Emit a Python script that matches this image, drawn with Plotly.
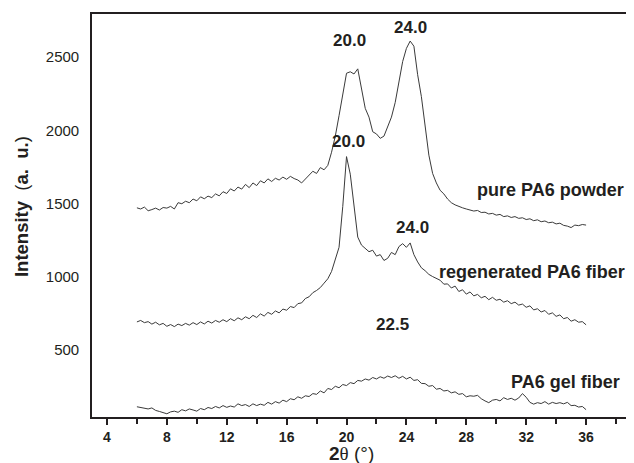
import numpy as np
import plotly.graph_objects as go

two_theta = [round(v, 2) for v in np.arange(6.0, 36.001, 0.25)]

pure_powder = [
    1470, 1462, 1475, 1450, 1458, 1468, 1455, 1472, 1468, 1480, 1462, 1505, 1498, 1515, 1505, 1530,
    1518, 1545, 1532, 1550, 1540, 1565, 1552, 1580, 1568, 1600, 1585, 1612, 1598, 1630, 1608, 1640,
    1622, 1655, 1640, 1668, 1650, 1672, 1660, 1680, 1665, 1685, 1670, 1660, 1640, 1668, 1690, 1720,
    1705, 1745, 1730, 1760, 1850, 1960, 2100, 2240, 2390, 2400, 2385, 2420, 2270, 2150, 2090, 1990,
    1975, 1945, 1960, 2030, 2090, 2190, 2320, 2470, 2560, 2610, 2575, 2380, 2230, 2020, 1830, 1705,
    1640, 1590, 1565, 1530, 1505, 1490, 1478, 1470, 1462, 1455, 1448, 1452, 1438, 1440, 1428, 1432,
    1420, 1425, 1410, 1415, 1404, 1410, 1398, 1402, 1390, 1395, 1382, 1388, 1375, 1380, 1368, 1372,
    1360, 1365, 1350, 1345, 1335, 1352, 1348, 1356, 1352,
]

regenerated_fiber = [
    690, 700, 685, 692, 675, 688, 670, 680, 660, 672, 658, 675, 665, 680, 668, 685,
    672, 690, 676, 695, 682, 700, 688, 705, 692, 712, 698, 718, 705, 725, 712, 735,
    720, 745, 730, 755, 742, 765, 752, 778, 770, 795, 788, 815, 820, 850, 862, 890,
    905, 925, 955, 985, 1035, 1110, 1200, 1480, 1820, 1700, 1480, 1270, 1215, 1195, 1170, 1180,
    1140, 1150, 1110, 1125, 1165, 1150, 1205, 1225, 1200, 1230, 1150, 1100, 1060, 1040, 1015, 1000,
    985, 975, 948, 950, 922, 935, 898, 910, 880, 895, 868, 878, 855, 865, 842, 858,
    838, 845, 825, 835, 815, 825, 805, 812, 790, 800, 772, 780, 758, 768, 742, 752,
    728, 738, 712, 720, 695, 705, 688, 692, 670,
]

gel_fiber = [
    110, 105, 100, 95, 102, 85, 78, 70, 62, 75, 80, 72, 90, 82, 95, 88,
    80, 98, 90, 105, 98, 112, 102, 118, 106, 115, 108, 130, 118, 125, 112, 130,
    118, 128, 120, 140, 128, 145, 135, 155, 145, 165, 158, 178, 168, 185, 180, 200,
    195, 218, 205, 235, 228, 250, 240, 262, 255, 275, 268, 290, 285, 300, 292, 310,
    300, 315, 305, 320, 310, 322, 305, 318, 300, 312, 290, 295, 270, 268, 250, 255,
    230, 235, 218, 222, 205, 212, 195, 200, 178, 185, 182, 188, 165, 150, 138, 155,
    160, 150, 172, 160, 168, 155, 170, 200, 175, 140, 128, 138, 132, 145, 128, 140,
    132, 138, 130, 140, 118, 120, 108, 112, 90,
]

series_names = ["pure PA6 powder", "regenerated PA6 fiber", "PA6 gel fiber"]
series_label_pos = [(33.6, 1593), (32.4, 1033), (34.6, 281)]

peak_labels = ["20.0", "24.0", "20.0", "24.0", "22.5"]
peak_label_pos = [(20.2, 2617), (24.27, 2700), (20.13, 1921), (24.4, 1333), (23.07, 671)]

x_tick_vals = [4, 8, 12, 16, 20, 24, 28, 32, 36]
x_minor_vals = [6, 10, 14, 18, 22, 26, 30, 34, 38]
y_tick_vals = [500, 1000, 1500, 2000, 2500]

TXT = "#231f20"
LINE = "#3a3a3a"

fig = go.Figure()
for name, ys in zip(series_names, [pure_powder, regenerated_fiber, gel_fiber]):
    fig.add_trace(go.Scatter(x=two_theta, y=ys, mode="lines", name=name,
                             line=dict(color=LINE, width=1), showlegend=False))

annotations = []
for t, (ax, ay) in zip(peak_labels, peak_label_pos):
    annotations.append(dict(x=ax, y=ay, xref="x", yref="y", text="<b>%s</b>" % t,
                            showarrow=False, font=dict(size=17, color=TXT)))
for t, (ax, ay) in zip(series_names, series_label_pos):
    annotations.append(dict(x=ax, y=ay, xref="x", yref="y", text="<b>%s</b>" % t,
                            showarrow=False, font=dict(size=18, color=TXT)))

annotations.append(dict(x=0, y=0.521, xref="paper", yref="paper", xshift=-71,
                        xanchor="center", yanchor="middle",
                        text="<b>Intensity</b>\u00a0\u00a0(<b>a.\u00a0\u00a0u.</b>)",
                        textangle=-90, showarrow=False,
                        font=dict(size=18.5, color=TXT)))
annotations.append(dict(x=0.4806, y=0, xref="paper", yref="paper", yshift=-36,
                        xanchor="center", yanchor="middle",
                        text="<b>2</b><span style='font-family:Liberation Serif'>θ</span>\u00a0(°)",
                        showarrow=False, font=dict(size=19, color=TXT)))

fig.update_layout(
    width=626, height=463,
    margin=dict(l=84, r=1, t=6, b=54),
    paper_bgcolor="white", plot_bgcolor="white",
    font=dict(family="Liberation Sans, Arial, sans-serif", color=TXT),
    annotations=annotations,
    xaxis=dict(range=[3, 39], tickvals=x_tick_vals, ticktext=["<b>%d</b>" % v for v in x_tick_vals],
               ticks="outside", ticklen=6, tickwidth=1.5, tickcolor=TXT,
               minor=dict(tickvals=x_minor_vals, ticks="outside",
                          ticklen=5, tickwidth=1.5, tickcolor=TXT),
               showgrid=False, zeroline=False, showline=True, mirror=True,
               linecolor=TXT, linewidth=1.6, tickfont=dict(size=14, color=TXT)),
    yaxis=dict(range=[40, 2795], tickvals=y_tick_vals, ticks="", showgrid=False, zeroline=False,
               showline=True, mirror=True, linecolor=TXT, linewidth=1.6,
               tickfont=dict(size=15, color=TXT), ticklabelstandoff=8),
)

fig.write_html("out.html")
